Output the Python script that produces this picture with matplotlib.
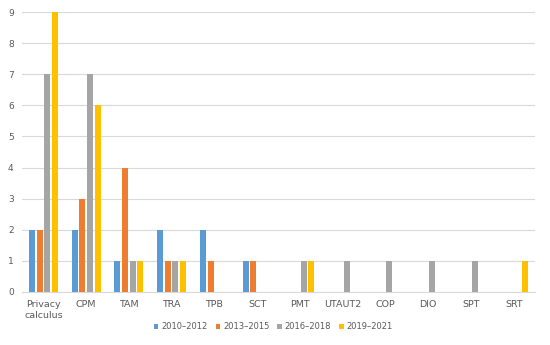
import numpy as np
import matplotlib.pyplot as plt

categorias = ["Privacy\ncalculus", "CPM", "TAM", "TRA", "TPB", "SCT",
              "PMT", "UTAUT2", "COP", "DIO", "SPT", "SRT"]
periodos = ["2010\u20132012", "2013\u20132015", "2016\u20132018", "2019\u20132021"]
v_2010 = [2, 2, 1, 2, 2, 1, 0, 0, 0, 0, 0, 0]
v_2013 = [2, 3, 4, 1, 1, 1, 0, 0, 0, 0, 0, 0]
v_2016 = [7, 7, 1, 1, 0, 0, 1, 1, 1, 1, 1, 0]
v_2019 = [9, 6, 1, 1, 0, 0, 1, 0, 0, 0, 0, 1]
colores = ["#5B9BD5", "#ED7D31", "#A5A5A5", "#FFC000"]

fig = plt.figure(figsize=(5.5, 3.45), dpi=100)
ax = fig.add_axes([0.04, 0.154, 0.933, 0.811])

x = np.arange(len(categorias))
paso = 0.178
ancho = 0.14
series = [v_2010, v_2013, v_2016, v_2019]
for i, (vals, c, lab) in enumerate(zip(series, colores, periodos)):
    ax.bar(x + (i - 1.5) * paso, vals, width=ancho, color=c, label=lab, zorder=3)

ax.set_xlim(-0.5, len(categorias) - 0.5)
ax.set_ylim(0, 9)
ax.set_yticks(range(10))
ax.grid(axis="y", color="#D9D9D9", linewidth=0.8, zorder=0)
for s in ["top", "right", "left"]:
    ax.spines[s].set_visible(False)
ax.spines["bottom"].set_color("#D9D9D9")
ax.set_xticks(x)
ax.set_xticklabels(categorias)
ax.tick_params(axis="x", length=0, labelsize=6.8, colors="#595959", pad=6)
ax.tick_params(axis="y", length=0, labelsize=6.5, colors="#595959", pad=6)

ax.legend(loc="center", bbox_to_anchor=(0.49, -0.125), ncol=4, frameon=False,
          fontsize=6, labelcolor="#595959", handlelength=0.55, handleheight=0.55,
          handletextpad=0.35, columnspacing=0.95)

fig.savefig("out.png", dpi=100)
